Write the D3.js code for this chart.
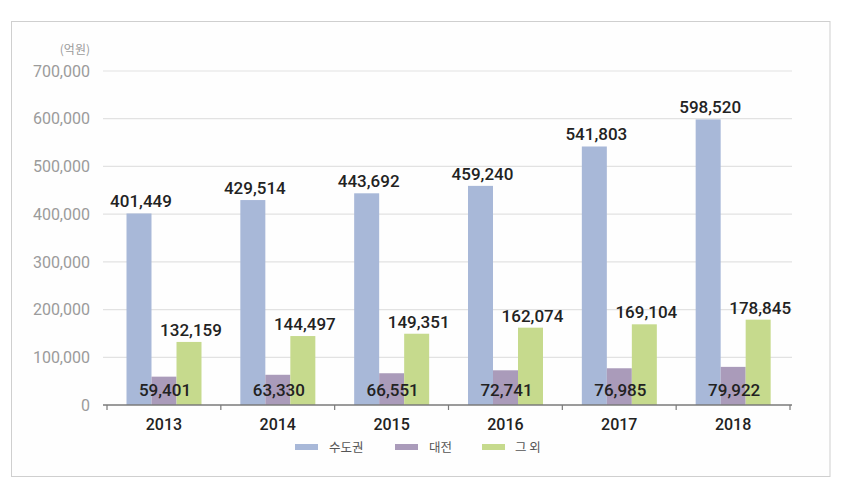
<!DOCTYPE html>
<html>
<head>
<meta charset="utf-8">
<script src="https://cdn.jsdelivr.net/npm/d3@7/dist/d3.min.js"></script>
<style>
  html, body { margin: 0; padding: 0; background: #ffffff; }
  svg { display: block; }
</style>
</head>
<body>
<svg id="chart" width="860" height="493"></svg>
<script>
const years = ["2013", "2014", "2015", "2016", "2017", "2018"];
const seriesNames = ["수도권", "대전", "그 외"];
const capital = [401449, 429514, 443692, 459240, 541803, 598520];
const daejeon = [59401, 63330, 66551, 72741, 76985, 79922];
const others = [132159, 144497, 149351, 162074, 169104, 178845];
const yTicks = [0, 100000, 200000, 300000, 400000, 500000, 600000, 700000];
const unitLabel = "(억원)";
const colors = ["#a8b8d8", "#aa9bba", "#c6da8d"];

const seriesValues = [capital, daejeon, others];

const svg = d3.select("#chart");
const numFont = "Roboto, 'Liberation Sans', sans-serif";
const krFont = "'Noto Sans CJK KR', 'Noto Sans', sans-serif";

// frame
svg.append("rect")
  .attr("x", 11.5).attr("y", 21.5).attr("width", 818.5).attr("height", 455)
  .attr("fill", "#fefefe").attr("stroke", "#cfcfcf").attr("stroke-width", 1);

const x = d3.scaleBand().domain(years).range([107, 790]).padding(0);
const inner = d3.scaleBand().domain(seriesNames).range([19.5, 94.5]).padding(0);
const y = d3.scaleLinear().domain([0, 700000]).range([405, 71]);

// gridlines
svg.append("g").selectAll("line").data(yTicks.filter(t => t > 0)).join("line")
  .attr("x1", 103).attr("x2", 792)
  .attr("y1", d => y(d)).attr("y2", d => y(d))
  .attr("stroke", "#e2e2e2").attr("stroke-width", 1.2);

// y tick labels
const fmt = d3.format(",");
svg.append("g").selectAll("text").data(yTicks).join("text")
  .attr("x", 90).attr("y", d => y(d))
  .attr("dy", "0.36em")
  .attr("text-anchor", "end")
  .attr("font-family", numFont)
  .attr("font-size", 16)
  .attr("fill", "#9b9b9b")
  .text(d => fmt(d));

svg.append("text")
  .attr("x", 90).attr("y", 50).attr("dy", "0.36em")
  .attr("text-anchor", "end")
  .attr("font-family", krFont)
  .attr("font-size", 12)
  .attr("fill", "#9b9b9b")
  .text(unitLabel);

// bars
const groups = svg.append("g").selectAll("g").data(years).join("g")
  .attr("transform", d => `translate(${x(d)},0)`);

seriesNames.forEach((s, si) => {
  groups.append("rect")
    .attr("x", inner(s))
    .attr("width", inner.bandwidth())
    .attr("y", (d, i) => y(seriesValues[si][i]))
    .attr("height", (d, i) => y(0) - y(seriesValues[si][i]))
    .attr("fill", colors[si]);
});

// labels
const labelStyle = sel => sel
  .attr("text-anchor", "middle")
  .attr("font-family", numFont)
  .attr("font-weight", 500)
  .attr("font-size", 17)
  .attr("fill", "#222222");

groups.append("text")
  .attr("x", inner(seriesNames[0]) + inner.bandwidth() / 2 + 2)
  .attr("y", (d, i) => y(capital[i]) - 6)
  .call(labelStyle)
  .text((d, i) => fmt(capital[i]));

groups.append("text")
  .attr("x", inner(seriesNames[1]) + inner.bandwidth() / 2 + 1)
  .attr("y", y(0) - 9)
  .call(labelStyle)
  .text((d, i) => fmt(daejeon[i]));

groups.append("text")
  .attr("x", inner(seriesNames[2]) + inner.bandwidth() / 2 + 2)
  .attr("y", (d, i) => y(others[i]) - 6)
  .call(labelStyle)
  .text((d, i) => fmt(others[i]));

// x axis
svg.append("line")
  .attr("x1", 103).attr("x2", 792)
  .attr("y1", y(0)).attr("y2", y(0))
  .attr("stroke", "#7a7a7a").attr("stroke-width", 1.5);

const tickPositions = years.map(d => x(d)).concat([x(years[years.length - 1]) + x.bandwidth()]);
svg.append("g").selectAll("line").data(tickPositions).join("line")
  .attr("x1", d => d).attr("x2", d => d)
  .attr("y1", y(0)).attr("y2", y(0) + 5)
  .attr("stroke", "#7a7a7a").attr("stroke-width", 1.2);

svg.append("g").selectAll("text").data(years).join("text")
  .attr("x", d => x(d) + x.bandwidth() / 2)
  .attr("y", 430)
  .attr("text-anchor", "middle")
  .attr("font-family", numFont)
  .attr("font-weight", 500)
  .attr("font-size", 16)
  .attr("fill", "#222222")
  .text(d => d);

// legend
const legendX = [295, 395, 482];
const legend = svg.append("g").selectAll("g").data(seriesNames).join("g")
  .attr("transform", (d, i) => `translate(${legendX[i]},447)`);
legend.append("rect")
  .attr("x", 0).attr("y", -3).attr("width", 23).attr("height", 6)
  .attr("fill", (d, i) => colors[i]);
legend.append("text")
  .attr("x", (d, i) => i === 2 ? 33 : 34)
  .attr("y", 0).attr("dy", "0.36em")
  .attr("font-family", krFont)
  .attr("font-size", 12.5)
  .attr("fill", "#555555")
  .text(d => d);
</script>
</body>
</html>
